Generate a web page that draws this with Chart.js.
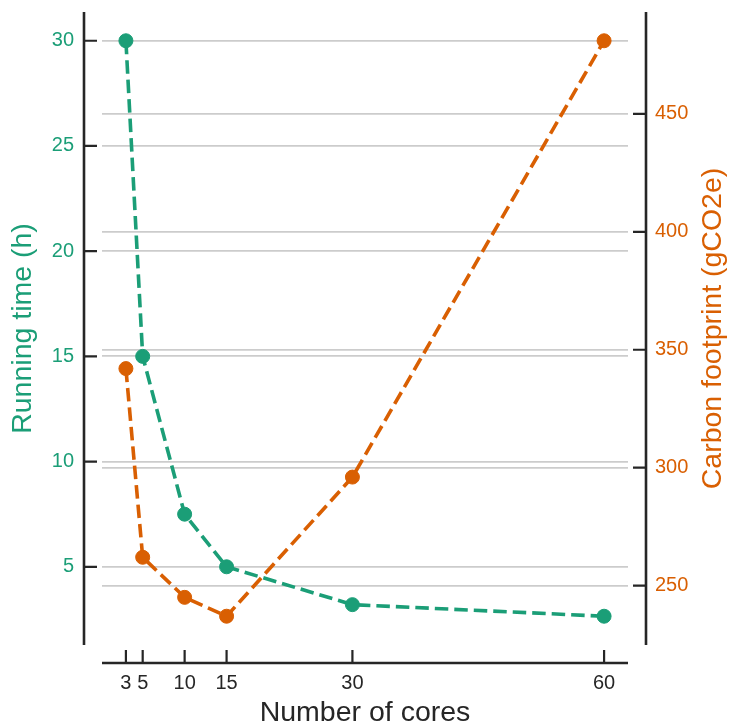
<!DOCTYPE html>
<html>
<head>
<meta charset="utf-8">
<script src="https://cdn.jsdelivr.net/npm/chart.js@4"></script>
<style>
  html, body { margin: 0; padding: 0; background: #fff; }
  #wrap { width: 729px; height: 726px; }
</style>
</head>
<body>
<div id="wrap"><canvas id="chart"></canvas></div>
<script>
// values
var cores = [3, 5, 10, 15, 30, 60];
var runningTime = [30, 15, 7.5, 5, 3.2, 2.65];
var carbon = [342, 262, 245, 237, 296, 481];

var coreTicks = [3, 5, 10, 15, 30, 60];
var timeTicks = [5, 10, 15, 20, 25, 30];
var carbonTicks = [250, 300, 350, 400, 450];

var rightTitle = 'Carbon footprint (gCO2e)';

var green = '#1b9e77';
var orange = '#d95f02';
var ink = '#262626';
var font = "'Liberation Sans', Arial, sans-serif";

// matplotlib style 5% margins around the data
function padRange(vals) {
  var lo = Math.min.apply(null, vals), hi = Math.max.apply(null, vals);
  var m = (hi - lo) * 0.05;
  return { min: lo - m, max: hi + m };
}

function points(ys) {
  return cores.map(function (c, i) { return { x: c, y: ys[i] }; });
}

function fixTicks(list) {
  return function (scale) {
    scale.ticks = list.map(function (v) { return { value: v }; });
  };
}

function noPad(s) {
  s.paddingTop = 0; s.paddingBottom = 0; s.paddingLeft = 0; s.paddingRight = 0;
}

var xr = padRange(cores), tr = padRange(runningTime), cr = padRange(carbon);

// offset spines with inward tick marks (seaborn despine(offset=...) look)
var offsetSpines = {
  id: 'offsetSpines',
  afterDraw: function (chart) {
    var ctx = chart.ctx, a = chart.chartArea, gap = 18, len = 13;
    var xs = chart.scales.x, yl = chart.scales.y, yr = chart.scales.y1;
    var lx = a.left - gap, rx = a.right + gap, by = a.bottom + gap;
    ctx.save();
    ctx.strokeStyle = ink;
    ctx.lineCap = 'butt';
    ctx.lineWidth = 2.6;
    ctx.beginPath();
    ctx.moveTo(lx, a.top); ctx.lineTo(lx, a.bottom);
    ctx.moveTo(rx, a.top); ctx.lineTo(rx, a.bottom);
    ctx.moveTo(a.left, by); ctx.lineTo(a.right, by);
    ctx.stroke();
    ctx.lineWidth = 2.2;
    ctx.beginPath();
    yl.ticks.forEach(function (t) {
      var p = yl.getPixelForValue(t.value);
      ctx.moveTo(lx, p); ctx.lineTo(lx + len, p);
    });
    yr.ticks.forEach(function (t) {
      var p = yr.getPixelForValue(t.value);
      ctx.moveTo(rx - len, p); ctx.lineTo(rx, p);
    });
    xs.ticks.forEach(function (t) {
      var p = xs.getPixelForValue(t.value);
      ctx.moveTo(p, by - len); ctx.lineTo(p, by);
    });
    ctx.stroke();

    // right axis title reads bottom-to-top like the left one
    ctx.translate(yr.right - 16, (a.top + a.bottom) / 2);
    ctx.rotate(-Math.PI / 2);
    ctx.fillStyle = orange;
    ctx.font = '28.5px ' + font;
    ctx.textAlign = 'center';
    ctx.textBaseline = 'middle';
    ctx.fillText(rightTitle, 0, 0);
    ctx.restore();
  }
};

new Chart(document.getElementById('chart'), {
  type: 'line',
  data: {
    datasets: [
      {
        label: 'Carbon footprint',
        data: points(carbon),
        yAxisID: 'y1',
        order: 0,
        borderColor: orange,
        backgroundColor: orange,
        borderWidth: 3.6,
        borderDash: [13.5, 6],
        pointRadius: 7,
        pointBorderWidth: 1,
        pointBorderColor: orange,
        pointBackgroundColor: orange,
        tension: 0
      },
      {
        label: 'Running time',
        data: points(runningTime),
        yAxisID: 'y',
        order: 1,
        borderColor: green,
        backgroundColor: green,
        borderWidth: 3.6,
        borderDash: [13.5, 6],
        pointRadius: 7,
        pointBorderWidth: 1,
        pointBorderColor: green,
        pointBackgroundColor: green,
        tension: 0
      }
    ]
  },
  options: {
    responsive: true,
    maintainAspectRatio: false,
    animation: false,
    layout: { padding: { top: 12, left: 0, right: 0, bottom: 0 } },
    plugins: {
      legend: { display: false },
      tooltip: { enabled: false }
    },
    scales: {
      x: {
        type: 'linear',
        min: xr.min,
        max: xr.max,
        afterBuildTicks: fixTicks(coreTicks),
        afterFit: function (s) { s.height = 81; noPad(s); },
        grid: { display: false, drawTicks: false },
        border: { display: false },
        ticks: {
          color: ink,
          padding: 26,
          maxRotation: 0,
          autoSkip: false,
          font: { family: font, size: 20 }
        },
        title: {
          display: true,
          text: 'Number of cores',
          color: ink,
          padding: 0,
          font: { family: font, size: 28.5, lineHeight: 0.88 }
        }
      },
      y: {
        type: 'linear',
        position: 'left',
        min: tr.min,
        max: tr.max,
        afterBuildTicks: fixTicks(timeTicks),
        afterFit: function (s) { s.width = 102; noPad(s); },
        grid: { color: '#cccccc', lineWidth: 1.8, drawTicks: false },
        border: { display: false },
        ticks: {
          color: green,
          padding: 28,
          font: { family: font, size: 20 }
        },
        title: {
          display: true,
          text: 'Running time (h)',
          color: green,
          padding: { top: 9, bottom: 0 },
          font: { family: font, size: 28.5, lineHeight: 1 }
        }
      },
      y1: {
        type: 'linear',
        position: 'right',
        min: cr.min,
        max: cr.max,
        afterBuildTicks: fixTicks(carbonTicks),
        afterFit: function (s) { s.width = 101; noPad(s); },
        grid: { color: '#cccccc', lineWidth: 1.8, drawTicks: false },
        border: { display: false },
        ticks: {
          color: orange,
          padding: 27,
          font: { family: font, size: 20 }
        },
        title: { display: false }
      }
    }
  },
  plugins: [offsetSpines]
});
</script>
</body>
</html>
